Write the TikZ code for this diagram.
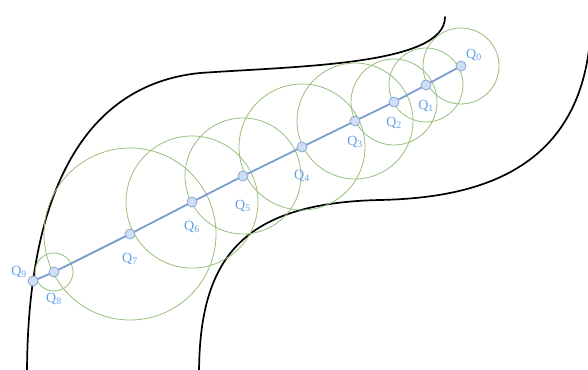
\documentclass[tikz,border=0pt]{standalone}
\usepackage{fontspec}
\setmainfont{Liberation Serif}
\usepackage{tikz}
\usetikzlibrary{positioning}
\definecolor{pathBlue}{RGB}{125,155,205}
\definecolor{dotFill}{RGB}{205,222,245}
\definecolor{dotEdge}{RGB}{140,165,210}
\definecolor{ringGreen}{RGB}{150,190,125}
\definecolor{labelBlue}{RGB}{95,160,230}

\begin{document}
\begin{tikzpicture}[x=1pt, y=-1pt,
    qdot/.style={draw=dotEdge, fill=dotFill, circle, inner sep=0pt, minimum size=10pt, line width=0.8pt},
    ring/.style={draw=ringGreen, line width=0.8pt},
    wall/.style={draw=black, line width=1.7pt, line cap=round},
    qlabel/.style={text=labelBlue, inner sep=1pt, font=\fontsize{14}{16}\selectfont}]
  \useasboundingbox (0,0) rectangle (588,369);

  % road edges
  \draw[wall] (27,375) .. controls (27,200) and (80,85) .. (200,73)
                      .. controls (300,66) and (445,65) .. (445,17);
  \draw[wall] (199,375) .. controls (199,260) and (240,203) .. (380,200)
                       .. controls (470,198) and (578,175) .. (590,40);

  % sample points
  \coordinate (q0) at (461,66);
  \coordinate (q1) at (426,85);
  \coordinate (q2) at (394,102);
  \coordinate (q3) at (355,121);
  \coordinate (q4) at (302,147);
  \coordinate (q5) at (243,176);
  \coordinate (q6) at (192,202);
  \coordinate (q7) at (130,234);
  \coordinate (q8) at (54,272);
  \coordinate (q9) at (33,281);

  % clearance circles
  \foreach \p/\r in {q0/38, q1/37, q2/43, q3/58, q4/63, q5/58, q6/66, q7/86, q8/19}
    \draw[ring] (\p) circle[radius=\r];

  \draw[pathBlue, line width=1.8pt] (q9) -- (q8) -- (q7) -- (q6) -- (q5) -- (q4) -- (q3) -- (q2) -- (q1) -- (q0);
  \foreach \i in {0,...,9}
    \node[qdot] (d\i) at (q\i) {};

  % labels
  \node[qlabel, above right=4pt and 4pt of q0] (l0) {Q\textsubscript{0}};
  \node[qlabel, below=14pt of q1] (l1) {Q\textsubscript{1}};
  \node[qlabel, below=14pt of q2] (l2) {Q\textsubscript{2}};
  \node[qlabel, below=14pt of q3] (l3) {Q\textsubscript{3}};
  \node[qlabel, below=22pt of q4] (l4) {Q\textsubscript{4}};
  \node[qlabel, below=23pt of q5] (l5) {Q\textsubscript{5}};
  \node[qlabel, below=18pt of q6] (l6) {Q\textsubscript{6}};
  \node[qlabel, below=18pt of q7] (l7) {Q\textsubscript{7}};
  \node[qlabel, below=20pt of q8] (l8) {Q\textsubscript{8}};
  \node[qlabel, above left=2pt and 5pt of q9] (l9) {Q\textsubscript{9}};
\end{tikzpicture}
\end{document}
